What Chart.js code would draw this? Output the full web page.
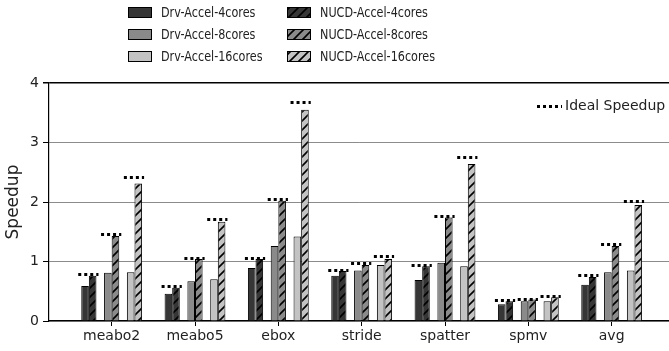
<!DOCTYPE html>
<html>
<head>
<meta charset="utf-8">
<script src="https://cdn.jsdelivr.net/npm/chart.js@4.4.1/dist/chart.umd.min.js"></script>
<style>
  html, body { margin: 0; padding: 0; background: #fff; }
  #wrap { width: 669px; height: 351px; overflow: hidden; }
</style>
</head>
<body>
<div id="wrap"><canvas id="myChart" width="669" height="351"></canvas></div>
<script>
const categories = ['meabo2', 'meabo5', 'ebox', 'stride', 'spatter', 'spmv', 'avg'];

const drv4   = [0.59, 0.46, 0.89, 0.76, 0.69, 0.28, 0.61];
const nucd4  = [0.76, 0.56, 1.04, 0.84, 0.92, 0.33, 0.74];
const drv8   = [0.81, 0.67, 1.26, 0.85, 0.98, 0.33, 0.82];
const nucd8  = [1.43, 1.04, 2.02, 0.94, 1.74, 0.36, 1.26];
const drv16  = [0.82, 0.70, 1.42, 0.94, 0.92, 0.33, 0.85];
const nucd16 = [2.31, 1.67, 3.55, 1.04, 2.64, 0.40, 1.95];

const ideal4  = [0.78, 0.57, 1.05, 0.84, 0.93, 0.33, 0.75];
const ideal8  = [1.44, 1.05, 2.03, 0.95, 1.75, 0.36, 1.27];
const ideal16 = [2.40, 1.70, 3.66, 1.07, 2.74, 0.40, 2.00];

const drvNames  = ['Drv-Accel-4cores', 'Drv-Accel-8cores', 'Drv-Accel-16cores'];
const nucdNames = ['NUCD-Accel-4cores', 'NUCD-Accel-8cores', 'NUCD-Accel-16cores'];
const yTicks = [0, 1, 2, 3, 4];

const FONT = 'DejaVu Sans';
const greys = ['#363636', '#8a8a8a', '#c3c3c3'];

function hatch(color) {
    const c = document.createElement('canvas');
    c.width = 9; c.height = 9;
    const g = c.getContext('2d');
    g.fillStyle = color;
    g.fillRect(0, 0, 9, 9);
    g.strokeStyle = '#000';
    g.lineWidth = 1.6;
    g.beginPath();
    g.moveTo(-2, 11); g.lineTo(11, -2);
    g.moveTo(-2, 2); g.lineTo(2, -2);
    g.moveTo(7, 11); g.lineTo(11, 7);
    g.stroke();
    return g.createPattern(c, 'repeat');
}

function pts(arr) {
    return arr.map((v, i) => ({ x: i, y: v }));
}

function barSet(label, values, fill) {
    return {
        label: label,
        data: pts(values),
        backgroundColor: fill,
        borderColor: '#000',
        borderWidth: 1
    };
}

function spacer() {
    return { label: '', data: pts(categories.map(() => 0)), backgroundColor: 'rgba(0,0,0,0)', borderWidth: 0 };
}

const drvSeries = [drv4, drv8, drv16];
const nucdSeries = [nucd4, nucd8, nucd16];
const idealSeries = [ideal4, ideal8, ideal16];

let datasets = [];
drvSeries.forEach((d, k) => {
    datasets.push(barSet(drvNames[k], d, greys[k]));
    datasets.push(barSet(nucdNames[k], nucdSeries[k], hatch(greys[k])));
    if (k < 2) datasets.push(spacer());
});

// dotted "ideal speedup" marks over every pair + small legend in the corner
const idealPlugin = {
    id: 'idealSpeedup',
    afterDatasetsDraw(chart) {
        const ctx = chart.ctx;
        const y = chart.scales.y;
        ctx.save();
        ctx.strokeStyle = '#000';
        ctx.lineWidth = 3;
        ctx.setLineDash([3, 3]);
        idealSeries.forEach((vals, k) => {
            const drv = chart.getDatasetMeta(k * 3).data;
            const nucd = chart.getDatasetMeta(k * 3 + 1).data;
            vals.forEach((v, i) => {
                const x0 = drv[i].x - drv[i].width / 2 - 3;
                const x1 = nucd[i].x + nucd[i].width / 2 + 2;
                const py = Math.round(y.getPixelForValue(v)) - 0.5;
                ctx.beginPath();
                ctx.moveTo(x0, py);
                ctx.lineTo(x1, py);
                ctx.stroke();
            });
        });
        // ideal legend
        ctx.beginPath();
        ctx.moveTo(537, 106.5);
        ctx.lineTo(562, 106.5);
        ctx.stroke();
        ctx.setLineDash([]);
        ctx.fillStyle = '#222';
        ctx.font = '14px "' + FONT + '"';
        ctx.textBaseline = 'middle';
        ctx.fillText('Ideal Speedup', 565, 106);
        ctx.restore();
    }
};

// legend is two columns (Drv | NUCD), text a bit condensed like the original
const legendPlugin = {
    id: 'twoColLegend',
    afterDraw(chart) {
        const ctx = chart.ctx;
        ctx.save();
        ctx.lineWidth = 1;
        ctx.strokeStyle = '#000';
        [0, 1].forEach(col => {
            for (let k = 0; k < 3; k++) {
                const ds = chart.data.datasets[k * 3 + col];
                const bx = col === 0 ? 128 : 287;
                const by = 7 + k * 22;
                ctx.fillStyle = ds.backgroundColor;
                ctx.fillRect(bx, by, 24, 11);
                ctx.strokeRect(bx + 0.5, by + 0.5, 23, 10);
                ctx.save();
                ctx.translate(bx + 33, by + 6);
                ctx.scale(0.8, 1);
                ctx.font = '14px "' + FONT + '"';
                ctx.textBaseline = 'middle';
                ctx.fillStyle = '#222';
                ctx.fillText(ds.label, 0, 0);
                ctx.restore();
            }
        });
        ctx.restore();
    }
};

new Chart(document.getElementById('myChart'), {
    type: 'bar',
    data: { datasets: datasets },
    plugins: [idealPlugin, legendPlugin],
    options: {
        responsive: false,
        animation: false,
        events: [],
        layout: { padding: { top: 83, left: 0, right: 0, bottom: 0 } },
        datasets: { bar: { categoryPercentage: 0.73, barPercentage: 1 } },
        plugins: {
            legend: { display: false },
            tooltip: { enabled: false }
        },
        scales: {
            x: {
                type: 'linear',
                offset: false,
                min: -0.752,
                max: 6.688,
                afterBuildTicks: (axis) => { axis.ticks = categories.map((c, i) => ({ value: i })); },
                afterFit: (s) => { s.height = 30; },
                ticks: {
                    callback: (v) => categories[v],
                    font: { family: FONT, size: 14 },
                    color: '#222',
                    padding: 2,
                    maxRotation: 0,
                    autoSkip: false
                },
                grid: { offset: false, drawOnChartArea: false, tickLength: 5, color: '#000' },
                border: { color: '#000', width: 1.2 }
            },
            y: {
                min: 0,
                max: 4,
                afterBuildTicks: (axis) => { axis.ticks = yTicks.map(v => ({ value: v })); },
                afterFit: (s) => { s.width = 49; },
                ticks: {
                    font: { family: FONT, size: 14 },
                    color: '#222',
                    padding: 4
                },
                grid: {
                    color: (c) => c.tick.value === 4 ? '#000' : '#8c8c8c',
                    lineWidth: (c) => c.tick.value === 4 ? 1.5 : 1,
                    tickLength: 6,
                    tickColor: '#000'
                },
                border: { color: '#000', width: 1.2 },
                title: {
                    display: true,
                    text: 'Speedup',
                    font: { family: FONT, size: 17 },
                    color: '#222',
                    padding: { top: 3, bottom: 0 }
                }
            }
        }
    }
});
</script>
</body>
</html>
